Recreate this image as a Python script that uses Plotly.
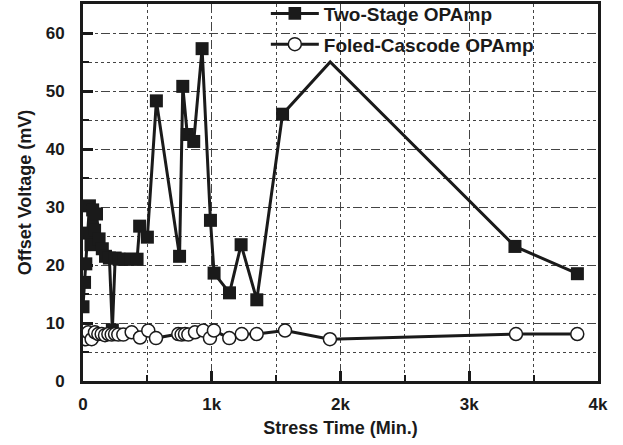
import plotly.graph_objects as go

# Two-Stage OPAmp (filled squares)
two_stage_x = [0, 12, 22, 35, 50, 62, 75, 90, 105, 125, 150, 175, 205, 228, 250, 280, 320, 370, 420,
               440, 500, 570, 750, 775, 810, 860, 925, 990, 1018, 1138, 1228, 1350, 1550, 1920, 3355, 3840]
two_stage_y = [12.8, 17.0, 20.2, 25.5, 30.2, 23.5, 29.5, 26.0, 28.8, 24.5, 22.8, 21.5, 21.2, 8.8, 21.2, 21.0, 21.0, 21.0, 21.0,
               26.7, 24.8, 48.3, 21.5, 50.8, 42.5, 41.3, 57.3, 27.7, 18.6, 15.2, 23.5, 14.0, 46.0, 55.0, 23.2, 18.5]

# Foled-Cascode OPAmp (open circles)
folded_x = [5, 23, 41, 67, 93, 119, 145, 171, 197, 223, 249, 274, 313, 378, 443, 507, 567,
            740, 766, 792, 818, 870, 934, 986, 1017, 1136, 1233, 1349, 1569, 1918, 3363, 3839]
folded_y = [7.8, 7.2, 8.4, 7.2, 8.4, 8.1, 8.1, 7.9, 8.1, 8.0, 8.1, 8.0, 8.0, 8.4, 7.5, 8.7, 7.4,
            8.1, 8.0, 8.1, 8.0, 8.4, 8.7, 7.4, 8.7, 7.4, 8.1, 8.1, 8.7, 7.2, 8.1, 8.1]

x_tick_vals = [0, 1000, 2000, 3000, 4000]
x_tick_text = ["0", "1k", "2k", "3k", "4k"]
y_tick_vals = [0, 10, 20, 30, 40, 50, 60]

FONT = "Liberation Sans, Arial, sans-serif"
INK = "#1a1a1a"

# hide the marker of the peak point (covered in the original)
peak_idx = two_stage_y.index(max(two_stage_y[-5:]))
sq_sizes = [0 if i == peak_idx else 13 for i in range(len(two_stage_x))]

fig = go.Figure()
fig.add_trace(go.Scatter(
    x=two_stage_x, y=two_stage_y, mode="lines+markers", name="Two-Stage OPAmp",
    legendgroup="a",
    line=dict(color=INK, width=3),
    marker=dict(symbol="square", size=sq_sizes, color=INK, opacity=1, line=dict(width=0)),
))
fig.add_trace(go.Scatter(
    x=folded_x, y=folded_y, mode="lines+markers", name="Foled-Cascode OPAmp",
    legendgroup="b",
    line=dict(color=INK, width=3),
    marker=dict(symbol="circle", size=13, color="white", opacity=1, line=dict(color=INK, width=1.5)),
))

axis_common = dict(
    showline=True, linecolor=INK, linewidth=3, mirror=True,
    ticks="inside", ticklen=10, tickwidth=3, tickcolor=INK,
    showgrid=True, gridcolor="#444444", gridwidth=1, griddash="dash",
    zeroline=False,
    tickfont=dict(family=FONT, size=17, color=INK, weight="bold"),
)

fig.update_xaxes(
    range=[0, 4000], tickvals=x_tick_vals, ticktext=x_tick_text,
    ticklabelstandoff=6,
    minor=dict(dtick=500, tick0=0, ticks="inside", ticklen=6, tickwidth=2, tickcolor=INK,
               showgrid=True, gridcolor="#444444", gridwidth=1, griddash="dot"),
    title=dict(text="Stress Time (Min.)", font=dict(family=FONT, size=18, color=INK, weight="bold"), standoff=8),
    **axis_common,
)
fig.update_yaxes(
    range=[0, 65], tickvals=y_tick_vals,
    ticklabelstandoff=12,
    minor=dict(dtick=5, tick0=0, ticks="inside", ticklen=6, tickwidth=2, tickcolor=INK,
               showgrid=True, gridcolor="#444444", gridwidth=1, griddash="dot"),
    title=dict(text="Offset Voltage (mV)", font=dict(family=FONT, size=18, color=INK, weight="bold"), standoff=10),
    **axis_common,
)

# white area behind the legend (hides gridlines, keeps frame and traces)
fig.add_shape(type="rect", xref="paper", yref="paper", x0=0.36, x1=0.885, y0=0.855, y1=1.0,
              fillcolor="white", line=dict(width=0), layer="between")

fig.update_layout(
    width=623, height=445,
    margin=dict(l=83, r=25, t=4, b=64, autoexpand=False),
    paper_bgcolor="white", plot_bgcolor="white",
    showlegend=True,
    legend=dict(
        x=0.355, y=1.025, xanchor="left", yanchor="top",
        bgcolor="rgba(255,255,255,0)", borderwidth=0, tracegroupgap=3,
        font=dict(family=FONT, size=19, color=INK, weight="bold"),
        itemwidth=48,
    ),
    font=dict(family=FONT),
)

fig.write_html("out.html")
